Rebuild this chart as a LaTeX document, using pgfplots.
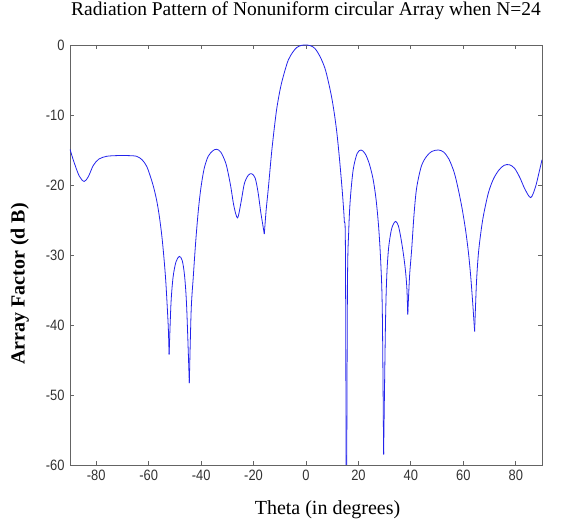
\documentclass[border=0pt]{standalone}
\usepackage{pgfplots}
\pgfplotsset{compat=1.18}
\usepackage{fontspec}
\setmainfont{Liberation Serif}
\newfontfamily\tickfont{Liberation Sans}[FakeStretch=0.86]
\definecolor{curve}{RGB}{35,35,235}
\definecolor{axgray}{RGB}{100,100,100}
\begin{document}
\begin{tikzpicture}
\begin{axis}[
  scale only axis,
  width=472pt, height=420pt,
  xmin=-90, xmax=90, ymin=-60, ymax=0,
  xtick={-80,-60,...,80}, ytick={-60,-50,...,0},
  tick align=inside,
  major tick length=4pt,
  axis line style={axgray, line width=0.8pt},
  tick style={axgray, line width=0.8pt},
  /pgf/number format/assume math mode=true,
  tick label style={font=\tickfont\fontsize{15}{15}\selectfont, text=black!80},
  xticklabel style={yshift=-1pt},
  yticklabel style={xshift=-2pt},
  clip=true,
  title={Radiation Pattern of Nonuniform circular Array when N=24},
  title style={font=\fontsize{19.5}{19.5}\selectfont, inner sep=0pt, at={(axis description cs:0.5,1.0548)}, anchor=base},
  xlabel={Theta (in degrees)},
  xlabel style={font=\fontsize{20}{20}\selectfont, inner sep=0pt, at={(axis description cs:0.5456,-0.107)}, anchor=center},
  ylabel={Array Factor (d B)},
  ylabel style={font=\bfseries\fontsize{20}{20}\selectfont, inner sep=0pt, at={(axis description cs:-0.106,0.431)}, anchor=center},
]
\pgfplotsset{every axis plot/.append style={curve, line width=0.8pt}}
% segment A
\addplot[smooth] coordinates {(-90,-14.9) (-88.5,-16.7) (-86.5,-18.7) (-84.6,-19.5) (-83,-18.8) (-81.1,-17.2) (-79,-16.3) (-76,-15.9) (-72,-15.8) (-68,-15.8) (-64.6,-15.9) (-62.5,-16.4) (-60.8,-17.3) (-59.5,-18.6) (-58.2,-20.2) (-57,-22.1) (-56,-24.3) (-55,-27.2) (-54.2,-30.3) (-53.5,-33.6) (-52.9,-37.5) (-52.5,-40.5) (-52.2,-44.2)};
% segment B
\addplot[smooth] coordinates {(-52.2,-44.2) (-51.5,-37) (-50.7,-33.2) (-49.6,-31) (-48.3,-30.2) (-47.2,-30.8) (-46.3,-33) (-45.5,-37.5) (-44.5,-48.3)};
% segment C
\addplot[smooth] coordinates {(-44.5,-48.3) (-43.8,-38) (-43,-33.2) (-42,-27.8) (-41,-23.4) (-40,-20.2) (-38.8,-17.6) (-37.3,-15.9) (-35.5,-15.1) (-34.1,-14.9) (-32.5,-15.3) (-30.5,-17) (-28.8,-20) (-27.5,-23) (-26.1,-24.7) (-24.8,-22.5) (-23.5,-19.8) (-22,-18.6) (-20.7,-18.4) (-19.4,-19) (-18.3,-21) (-17.2,-24) (-15.9,-27.0)};
% segment D (main lobe)
\addplot[smooth] coordinates {(-15.9,-27.0) (-15.2,-23.6) (-14.4,-20.6) (-13.1,-15.3) (-12.1,-11.9) (-11.2,-9.2) (-10.2,-7.0) (-9.3,-5.4) (-8,-3.6) (-6.7,-2.1) (-5,-1.0) (-3.5,-0.35) (-1.7,-0.05) (0,0) (1.7,-0.1) (3.4,-0.5) (5.3,-1.6) (7.2,-3.3) (8.5,-5.2) (9.8,-7.5) (10.8,-9.8) (11.7,-12.3) (12.5,-15.2) (13.3,-18.5) (14,-21.7) (14.6,-25.1) (15.05,-30) (15.4,-75)};
% segment E
\addplot[smooth] coordinates {(15.4,-75) (15.8,-35) (16.3,-26.5) (16.9,-22) (18,-17.8) (19.5,-15.5) (21,-15) (22.5,-15.5) (24,-16.8) (25.5,-19.0) (26.7,-22) (27.7,-26) (28.5,-31) (29.1,-38) (29.6,-58.5)};
% segment F
\addplot[smooth] coordinates {(29.6,-58.5) (30.3,-40) (30.8,-33) (31.5,-29) (32.5,-26.5) (33.3,-25.6) (34.2,-25.2) (35.2,-25.8) (36.2,-27.6) (37.2,-30) (38,-32.5) (38.5,-35) (38.8,-38.5)};
% segment G
\addplot[smooth] coordinates {(38.8,-38.5) (39.5,-33) (40.3,-29.2) (41.2,-24.2) (42.2,-20.4) (44,-17.3) (46,-15.9) (48,-15.2) (50.5,-15) (52.5,-15.3) (54.5,-16.3) (56.5,-18.2) (58,-20.5) (59.5,-23.3) (60.8,-26.3) (61.9,-29.5) (62.8,-33) (63.6,-37) (64.3,-40.9)};
% segment H
\addplot[smooth] coordinates {(64.3,-40.9) (65,-34) (65.7,-30) (66.5,-27.3) (67.6,-24.5) (69.5,-21.2) (71.4,-19.2) (73.5,-17.9) (75.5,-17.2) (77.5,-17.1) (79.5,-17.6) (81.5,-18.9) (83.5,-20.6) (85.7,-21.8) (87.5,-20.3) (89,-18) (90,-16.4)};
\end{axis}
\path (current axis.south west) ++(-70pt,-58pt);
\path (current axis.north east) ++(28pt,45pt);
\end{tikzpicture}
\end{document}
